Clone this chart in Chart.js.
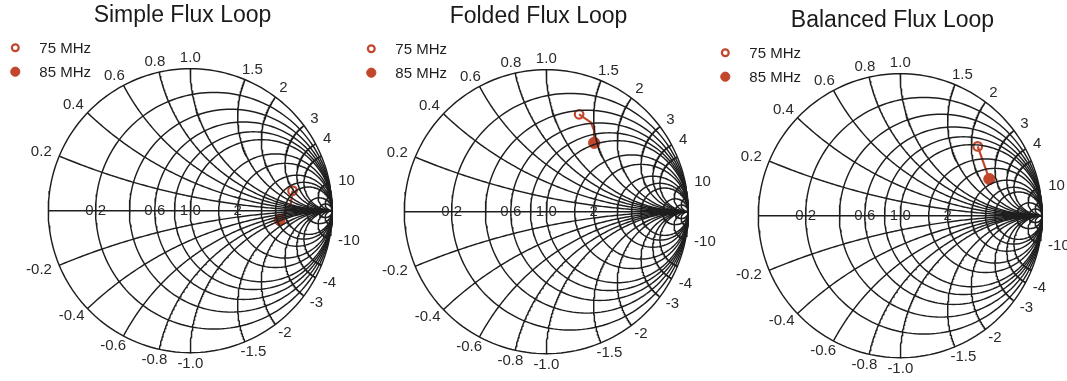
<!DOCTYPE html>
<html>
<head>
<meta charset="utf-8">
<script src="https://cdn.jsdelivr.net/npm/chart.js@4.4.1/dist/chart.umd.min.js"></script>
<style>
  html, body { margin: 0; padding: 0; background: #fff; overflow: hidden; }
  #wrap { position: relative; width: 1067px; height: 381px; overflow: hidden; }
  .panel { position: absolute; width: 380px; height: 381px; }
</style>
</head>
<body>
<div id="wrap">
  <div class="panel" style="left:0;top:0"><canvas id="c0" width="380" height="381"></canvas></div>
  <div class="panel" style="left:356px;top:1px"><canvas id="c1" width="380" height="381"></canvas></div>
  <div class="panel" style="left:710px;top:5px"><canvas id="c2" width="380" height="381"></canvas></div>
</div>
<script>
const titles = ['Simple Flux Loop', 'Folded Flux Loop', 'Balanced Flux Loop'];
const seriesLabels = ['75 MHz', '85 MHz'];

// reflection coefficient (re, im), 75 MHz first, 85 MHz last
const simpleRe = [0.720, 0.706, 0.629];
const simpleIm = [0.141, 0.040, -0.065];
const foldedRe = [0.231, 0.314, 0.337, 0.337];
const foldedIm = [0.686, 0.629, 0.572, 0.485];
const balancedRe = [0.545, 0.627];
const balancedIm = [0.488, 0.258];

// smith grid values (normalised resistance / reactance)
const resistanceCircles = [0, 0.2, 0.4, 0.6, 0.8, 1, 1.5, 2, 3, 4, 5, 10, 20];
const reactanceArcs = [0.2, 0.4, 0.6, 0.8, 1, 1.5, 2, 3, 4, 5, 10, 20];

// printed tick labels
const reactanceTicks = ['0.2', '0.4', '0.6', '0.8', '1.0', '1.5', '2', '3', '4', '10'];
const resistanceTicks = ['0.2', '0.6', '1.0', '2'];

const FONT = "'Liberation Sans', Arial, sans-serif";
const INK = '#1e1e1e';
const TRACE = '#c1462b';

// panel geometry in canvas pixels (chart area runs from PAD_L to W)
const W = 356, H = 381, CX = 190.3, CY = 210.7, R = 142, PAD_L = 9, PAD_R = 24, TITLE_H = 31.6;

// z = r + jx  ->  reflection coefficient
function gamma(r, x) {
  const d = (r + 1) * (r + 1) + x * x;
  return { x: (r * r - 1 + x * x) / d, y: 2 * x / d };
}

function resistanceCircle(r) {
  const c = r / (1 + r), rad = 1 / (1 + r), pts = [];
  for (let i = 0; i <= 180; i++) {
    const a = i / 180 * 2 * Math.PI;
    pts.push({ x: c + rad * Math.cos(a), y: rad * Math.sin(a) });
  }
  return pts;
}

function reactanceArc(x) {
  const pts = [];
  for (let i = 0; i < 140; i++) pts.push(gamma(Math.tan(i / 140 * Math.PI / 2), x));
  pts.push({ x: 1, y: 0 });
  return pts;
}

function gridSet(data) {
  return { data, showLine: true, borderColor: INK, borderWidth: 1.45, pointRadius: 0, fill: false };
}

const smithLabels = {
  id: 'smithLabels',
  afterDatasetsDraw(chart) {
    const { ctx } = chart;
    const sx = chart.scales.x, sy = chart.scales.y;
    const ox = sx.getPixelForValue(0), oy = sy.getPixelForValue(0);
    ctx.save();
    ctx.font = `15px ${FONT}`;
    ctx.fillStyle = '#2a2a2a';
    ctx.textAlign = 'center';
    ctx.textBaseline = 'middle';
    reactanceTicks.forEach(lbl => {
      [lbl, '-' + lbl].forEach(txt => {
        const g = gamma(0, parseFloat(txt));
        const px = sx.getPixelForValue(g.x), py = sy.getPixelForValue(g.y);
        const c = g.x, s = g.y; // unit circle, so these are cos / sin
        const w = ctx.measureText(txt).width;
        ctx.fillText(txt, px + 6 * c + (w / 2 + 3) * c, py - 6 * s - 5 * s);
      });
    });
    resistanceTicks.forEach(txt => {
      const g = gamma(parseFloat(txt), 0);
      ctx.fillText(txt, sx.getPixelForValue(g.x), oy);
    });

    // legend, top left of the chart
    ctx.textAlign = 'left';
    chart.data.datasets.filter(ds => seriesLabels.includes(ds.label)).forEach((ds, i) => {
      const mx = ox - 175, my = oy - 163 + i * 24;
      ctx.beginPath();
      ctx.arc(mx, my, ds.legendRadius, 0, Math.PI * 2);
      ctx.fillStyle = ds.pointBackgroundColor;
      ctx.fill();
      ctx.lineWidth = ds.pointBorderWidth;
      ctx.strokeStyle = ds.borderColor;
      ctx.stroke();
      ctx.fillStyle = INK;
      ctx.fillText(ds.label, mx + 24, my + 1);
    });
    ctx.restore();
  }
};

function makeChart(id, title, re, im) {
  const trace = re.map((v, i) => ({ x: v, y: im[i] }));
  const datasets = [];
  resistanceCircles.forEach(r => datasets.push(gridSet(resistanceCircle(r))));
  reactanceArcs.forEach(x => {
    datasets.push(gridSet(reactanceArc(x)));
    datasets.push(gridSet(reactanceArc(-x)));
  });
  datasets.push(gridSet([{ x: -1, y: 0 }, { x: 1, y: 0 }]));
  datasets.push({ data: trace, showLine: true, borderColor: TRACE, borderWidth: 2.2, pointRadius: 0 });
  datasets.push({
    label: seriesLabels[0], data: [trace[0]], showLine: false,
    pointRadius: 4.3, pointBorderWidth: 2.2, pointBackgroundColor: '#fff', borderColor: TRACE,
    legendRadius: 3.4
  });
  datasets.push({
    label: seriesLabels[1], data: [trace[trace.length - 1]], showLine: false,
    pointRadius: 5.6, pointBorderWidth: 1, pointBackgroundColor: TRACE, borderColor: TRACE,
    legendRadius: 4.6
  });

  return new Chart(document.getElementById(id), {
    type: 'scatter',
    data: { datasets },
    options: {
      responsive: false,
      animation: false,
      events: [],
      // no auto padding, so the circle lands exactly where the scale ranges say
      layout: { autoPadding: false, padding: { left: PAD_L, right: PAD_R } },
      plugins: {
        legend: { display: false },
        tooltip: { enabled: false },
        title: {
          display: true, text: title, color: '#1a1a1a',
          font: { family: FONT, size: 23, weight: 'normal', lineHeight: 1.2 },
          padding: { top: 2, bottom: 2 }
        }
      },
      scales: {
        x: { type: 'linear', display: false, min: -(CX - PAD_L) / R, max: (W - CX) / R },
        y: { type: 'linear', display: false, min: -(H - CY) / R, max: (CY - TITLE_H) / R }
      }
    },
    plugins: [smithLabels]
  });
}

makeChart('c0', titles[0], simpleRe, simpleIm);
makeChart('c1', titles[1], foldedRe, foldedIm);
makeChart('c2', titles[2], balancedRe, balancedIm);
</script>
</body>
</html>
